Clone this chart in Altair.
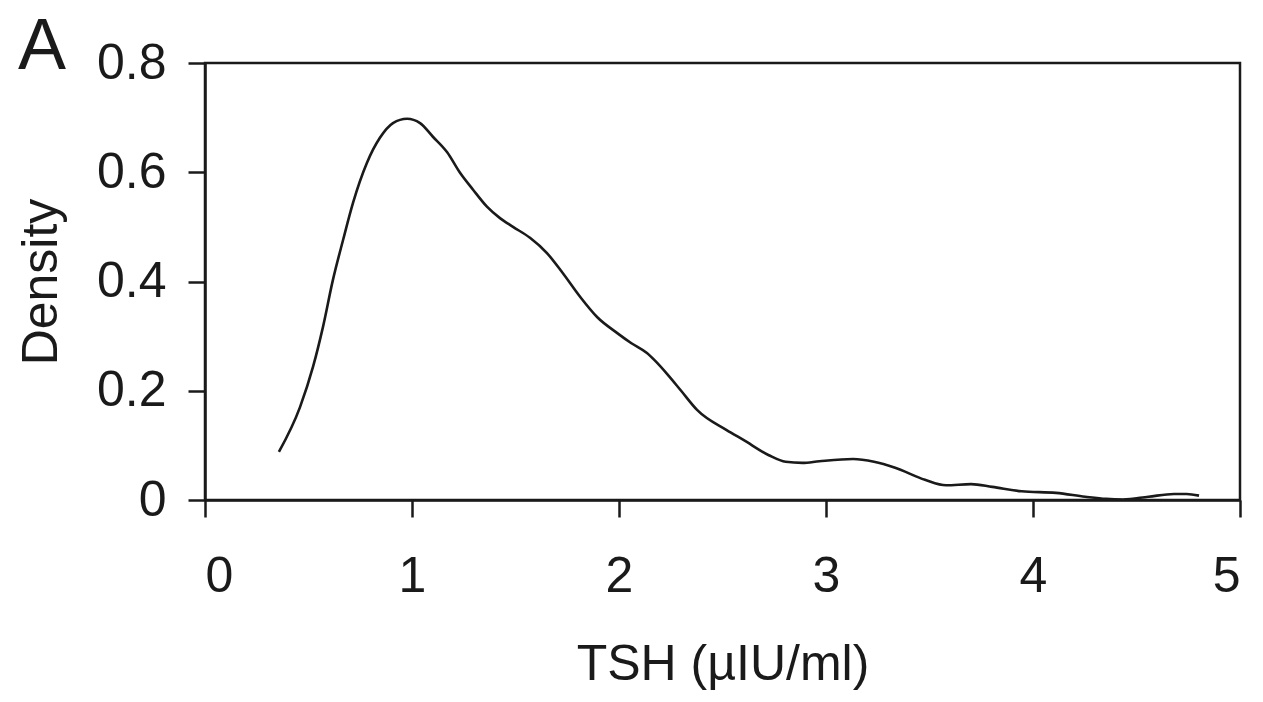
import altair as alt
import pandas as pd

tsh = [0.357, 0.459, 0.522, 0.570, 0.618, 0.667, 0.715, 0.782, 0.845, 0.908,
       0.976, 1.039, 1.101, 1.169, 1.232, 1.295, 1.362, 1.425, 1.488, 1.570,
       1.652, 1.729, 1.812, 1.894, 1.990, 2.060, 2.135, 2.174, 2.234, 2.300,
       2.377, 2.520, 2.601, 2.724, 2.805, 2.886, 2.968, 3.131, 3.232, 3.334,
       3.478, 3.580, 3.701, 3.803, 3.946, 4.111, 4.252, 4.353, 4.435, 4.558,
       4.681, 4.742, 4.802]
density = [0.088, 0.170, 0.244, 0.317, 0.403, 0.476, 0.544, 0.617, 0.663, 0.690,
           0.698, 0.690, 0.665, 0.637, 0.599, 0.568, 0.537, 0.516, 0.500, 0.480,
           0.452, 0.415, 0.372, 0.335, 0.306, 0.287, 0.269, 0.255, 0.230, 0.200,
           0.165, 0.128, 0.110, 0.082, 0.070, 0.068, 0.071, 0.075, 0.070, 0.059,
           0.037, 0.027, 0.029, 0.024, 0.016, 0.013, 0.006, 0.002, 0.001, 0.006,
           0.011, 0.011, 0.008]
x_ticks = [0, 1, 2, 3, 4, 5]
y_ticks = [0, 0.2, 0.4, 0.6, 0.8]

df = pd.DataFrame({"tsh": tsh, "density": density})

FONT = "Liberation Sans"
INK = "#1a1a1a"

chart = alt.Chart(df, title=alt.Title(
    "A", anchor="start", frame="group", fontSize=72, fontWeight="normal",
    font=FONT, color=INK, baseline="alphabetic", offset=0, dx=-187, dy=103)
).mark_line(color=INK, strokeWidth=2.6, interpolate="monotone").encode(
    x=alt.X("tsh:Q", scale=alt.Scale(domain=[0, 5], nice=False),
            axis=alt.Axis(title="TSH (µIU/ml)", values=x_ticks, format="d",
                          labelPadding=34, titlePadding=38)),
    y=alt.Y("density:Q", scale=alt.Scale(domain=[0, 0.8], nice=False),
            axis=alt.Axis(title="Density", values=y_ticks,
                          labelExpr="datum.value == 0 ? '0' : format(datum.value, '.1f')",
                          labelPadding=22, titlePadding=30)),
).properties(
    width=1035, height=437,
    autosize=alt.AutoSizeParams(type="none"),
    padding={"left": 205, "top": 63, "right": 23, "bottom": 202},
).configure_axis(
    grid=False, domainColor=INK, domainWidth=2.5, tickColor=INK, tickWidth=2.5,
    tickSize=17, labelFont=FONT, labelFontSize=50, labelColor=INK,
    titleFont=FONT, titleFontSize=50, titleFontWeight="normal", titleColor=INK,
).configure_view(stroke=INK, strokeWidth=2.5)

chart.save("out.html", embed_options={"renderer": "svg", "actions": False})
